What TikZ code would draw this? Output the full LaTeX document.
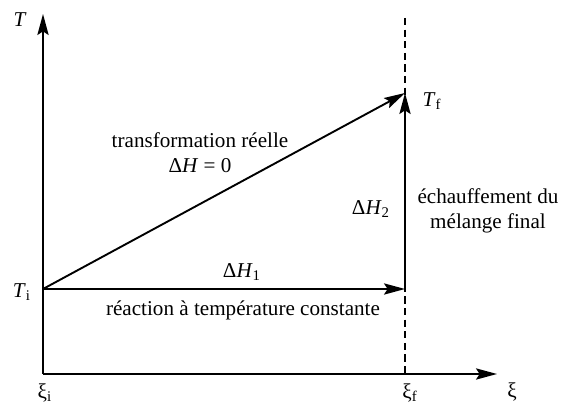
\documentclass[tikz,border=0pt]{standalone}
\usepackage{fontspec}
\setmainfont{Liberation Serif}
\usetikzlibrary{arrows.meta}
\newcommand\lbsub[1]{\textsubscript{#1}}
\begin{document}
\begin{tikzpicture}[x=0.5bp,y=-0.5bp,
  every node/.style={font=\rmfamily\fontsize{10.6}{12.6}\selectfont, inner sep=0pt},
  ln/.style={line width=0.95bp},
  arr/.style={ln, -{Stealth[length=10.5bp,width=5.6bp,inset=1.8bp]}},
  dsh/.style={line width=1bp, dash pattern=on 3.6bp off 2.2bp}]
\useasboundingbox (0,0) rectangle (563,405);
\coordinate (O) at (43,374);
\coordinate (Ytop) at (43,14);
\coordinate (Xend) at (497,374);
\coordinate (Ti) at (43,289);
\coordinate (A) at (405,289);
\coordinate (Tf) at (405,93);
\coordinate (Dtop) at (405,18);
\coordinate (Dbot) at (405,374);
% dashed line
\draw[dsh] (Dtop) -- (Dbot);
% axes
\draw[arr] (O) -- (Ytop);
\draw[arr] (O) -- (Xend);
% paths
\draw[arr] (Ti) -- (A);
\draw[arr] (A) -- (Tf);
\draw[arr] (Ti) -- (Tf);
% labels
\node (lT) at (20,20) {\textit{T}};
\node (lTi) at (22,292) {\textit{T}\lbsub{i}};
\node (lTf) at (432,101) {\textit{T}\lbsub{f}};
\node (lxi) at (45,393) {ξ\lbsub{i}};
\node (lxf) at (410,393) {ξ\lbsub{f}};
\node (lx) at (512,392) {ξ};
\node[align=center] (ltr) at (200,153) {transformation réelle\\Δ\textit{H} = 0};
\node (ldh1) at (242,272) {Δ\textit{H}\lbsub{1}};
\node (lreac) at (243,310) {réaction à température constante};
\node (ldh2) at (371,209) {Δ\textit{H}\lbsub{2}};
\node[align=center] (lech) at (488,211) {échauffement du\\mélange final};
\end{tikzpicture}
\end{document}
